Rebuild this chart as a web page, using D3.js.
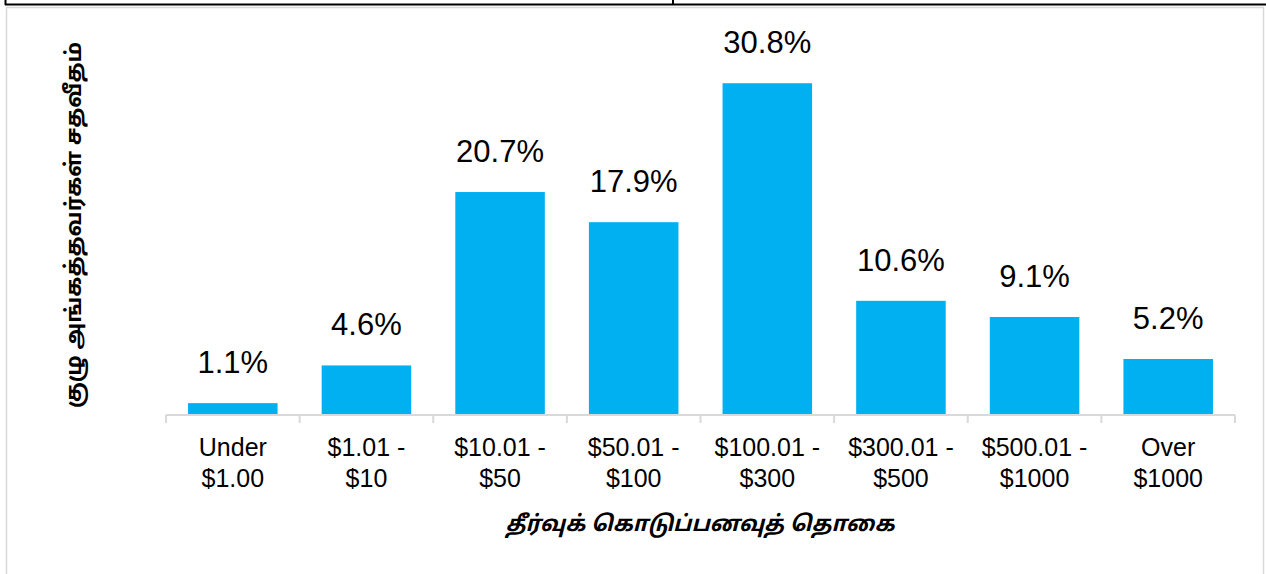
<!DOCTYPE html>
<html lang="ta">

<head>
	<meta charset="utf-8">
	<title> bars </title>
	<script src="https://d3js.org/d3.v7.min.js"></script>
	<style type="text/css">
	body { margin: 0; background: #fff; }
	svg { display: block; }
	</style>
</head>

<body>
	<svg id="chart" style="width:1266px; height:574px"></svg>

	<script type="text/javascript">
	// data
	var categories = ["Under|$1.00", "$1.01 -|$10", "$10.01 -|$50", "$50.01 -|$100",
		"$100.01 -|$300", "$300.01 -|$500", "$500.01 -|$1000", "Over|$1000"]
	var shares = [1.1, 4.6, 20.7, 17.9, 30.8, 10.6, 9.1, 5.2]
	var yTitle = "குழு அங்கத்தவர்கள் சதவீதம்"
	var xTitle = "தீர்வுக் கொடுப்பனவுத் தொகை"

	// colours
	var barBlue = "#00b0f0"
	var axisGray = "#d9d9d9"

	var W = 1266, H = 574
	var plot = {left: 166, right: 1235, bottom: 415, top: 38}

	var svg = d3.select("#chart")

	// frame bits: black cell edge on top, light gray border around the chart
	svg.append("line").attr("x1", 5).attr("x2", W).attr("y1", 4.5).attr("y2", 4.5)
		.attr("stroke", "#000").attr("stroke-width", 2)
	svg.append("line").attr("x1", 5.5).attr("x2", 5.5).attr("y1", 0).attr("y2", 5)
		.attr("stroke", "#000").attr("stroke-width", 2)
	svg.append("line").attr("x1", 673).attr("x2", 673).attr("y1", 0).attr("y2", 5)
		.attr("stroke", "#000").attr("stroke-width", 2)
	svg.append("path").attr("d", "M6.5,574 V7.5 H1263.5 V574")
		.attr("fill", "none").attr("stroke", axisGray).attr("stroke-width", 1.5)

	var x = d3.scaleBand()
		.domain(categories)
		.range([plot.left, plot.right])
		.paddingInner(0.33)
		.paddingOuter(0.165)

	var y = d3.scaleLinear()
		.domain([0, 35])
		.range([plot.bottom, plot.top])

	// bars
	svg.append("g").selectAll("rect")
		.data(shares)
		.enter()
		.append("rect")
		.attr("x", (d, i) => x(categories[i]))
		.attr("y", d => y(d))
		.attr("width", x.bandwidth())
		.attr("height", d => y(0) - y(d))
		.attr("fill", barBlue)

	// value labels
	svg.append("g").selectAll("text")
		.data(shares)
		.enter()
		.append("text")
		.attr("x", (d, i) => x(categories[i]) + x.bandwidth() / 2)
		.attr("y", d => y(d) - 30)
		.attr("text-anchor", "middle")
		.style("font-family", "'Liberation Sans', Arial, sans-serif")
		.style("font-size", "31px")
		.attr("fill", "#000")
		.text(d => d.toFixed(1) + "%")

	// x axis
	var axis = svg.append("g")
		.attr("transform", "translate(0," + plot.bottom + ")")
		.call(d3.axisBottom(x).tickSize(0).tickPadding(0))
	axis.select(".domain").remove()
	axis.selectAll(".tick text").each(function(d) {
		var t = d3.select(this).text(null)
			.attr("y", 0)
			.attr("dy", null)
			.style("font-family", "'Liberation Sans', Arial, sans-serif")
			.style("font-size", "25px")
			.attr("fill", "#000")
		d.split("|").forEach(function(line, k) {
			t.append("tspan").attr("x", 0).attr("y", 41 + k * 31).text(line)
		})
	})

	var gap = (x.step() - x.bandwidth()) / 2
	var edges = categories.map(c => x(c) - gap).concat([x(categories[categories.length - 1]) + x.bandwidth() + gap])
	axis.append("line")
		.attr("x1", plot.left).attr("x2", plot.right)
		.attr("y1", 0).attr("y2", 0)
		.attr("stroke", axisGray).attr("stroke-width", 2)
	axis.selectAll(".edge")
		.data(edges)
		.enter()
		.append("line")
		.attr("class", "edge")
		.attr("x1", d => d).attr("x2", d => d)
		.attr("y1", 0).attr("y2", 8)
		.attr("stroke", axisGray).attr("stroke-width", 2)

	// titles
	svg.append("text")
		.attr("transform", "translate(81,225) rotate(-90)")
		.attr("text-anchor", "middle")
		.style("font-family", "'Noto Sans Tamil', 'Noto Sans', sans-serif")
		.style("font-size", "22px")
		.style("font-weight", "bold")
		.text(yTitle)

	svg.append("text")
		.attr("x", 700)
		.attr("y", 531)
		.attr("text-anchor", "middle")
		.style("font-family", "'Noto Sans Tamil', 'Noto Sans', sans-serif")
		.style("font-size", "22px")
		.style("font-weight", "bold")
		.style("font-style", "italic")
		.text(xTitle)
	</script>
</body>
</html>
